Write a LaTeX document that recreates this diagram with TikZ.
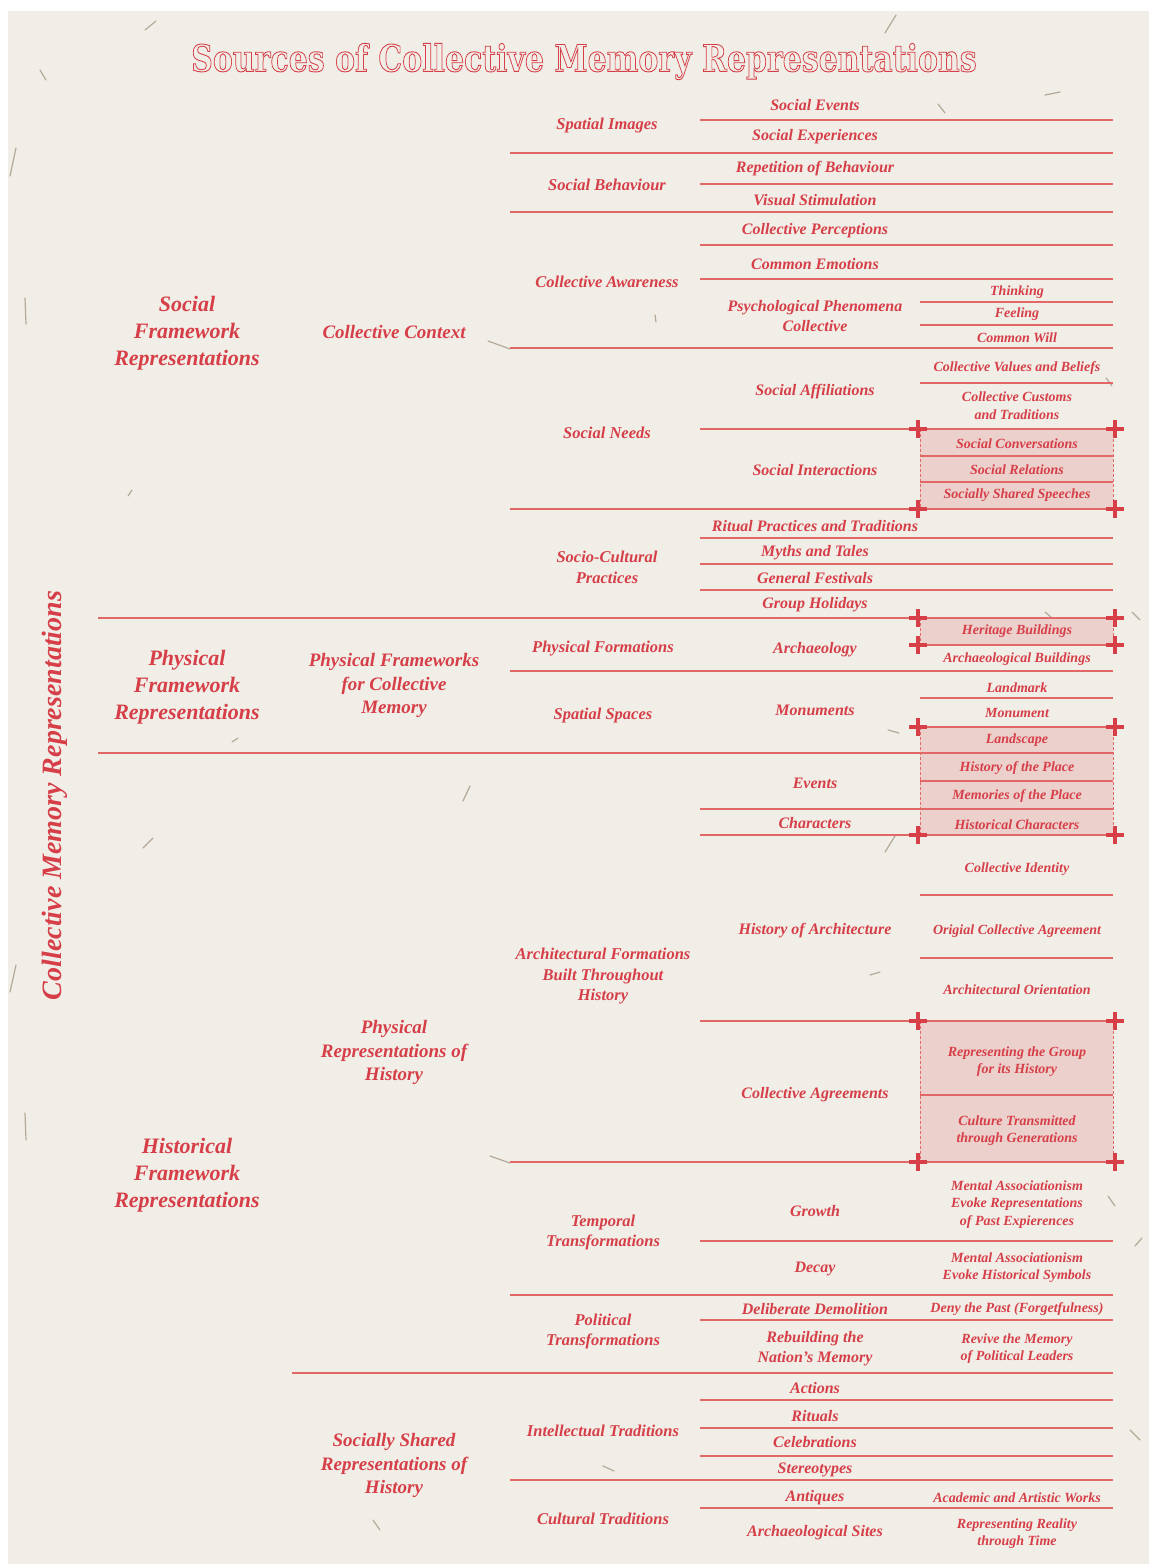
\documentclass[tikz,border=0pt]{standalone}
\usepackage{fontspec}
\setmainfont{Liberation Serif}
\newfontfamily\headfont{DejaVu Serif}
\usepackage{graphicx}
\usepackage{xcolor}
\definecolor{memred}{RGB}{214,62,72}
\definecolor{memline}{RGB}{226,104,104}
\definecolor{paper}{RGB}{241,238,231}
\definecolor{fibre}{RGB}{120,100,70}
% hollow (outlined) letters for the heading
\newcommand{\hollowtext}[1]{\special{pdf:literal direct 1 Tr 0.9 w}#1\special{pdf:literal direct 0 Tr}}

\begin{document}
\begin{tikzpicture}[x=1pt, y=-1pt,
    every node/.style={text=memred, align=center, inner sep=0pt, yshift=-1.5pt},
    t1/.style={font=\fontsize{22}{27}\selectfont\bfseries\itshape},
    t2/.style={font=\fontsize{19}{23.5}\selectfont\bfseries\itshape},
    t3/.style={font=\fontsize{16.5}{20.5}\selectfont\bfseries\itshape},
    t4/.style={font=\fontsize{16}{20}\selectfont\bfseries\itshape},
    t5/.style={font=\fontsize{14}{17.5}\selectfont\bfseries\itshape},
    sep/.style={draw=memline, line width=1.3pt},
    band/.style={fill=memred, fill opacity=0.17},
    bandedge/.style={draw=memline, line width=0.8pt, dash pattern=on 3pt off 2pt},
    crs/.style={draw=memred, line width=3.4pt},
    fib/.style={draw=fibre, line width=1.2pt, line cap=round, opacity=0.5}]
\useasboundingbox (0,0) rectangle (1149,1564);
\fill[white] (0,0) rectangle (1149,1564);
\fill[paper] (8,11) rectangle (1149,1564);
% paper fibres
\foreach \a/\b/\c/\d in {145/30/156/21, 885/33/896/15, 1045/95/1060/92, 938/104/945/113,
    10/176/16/148, 25/298/26/324, 488/341/510/349, 128/496/132/490, 40/70/46/80,
    463/801/470/786, 10/992/16/965, 25/1113/26/1140, 490/1156/510/1163, 603/1466/614/1471,
    1130/1430/1140/1440, 1135/1246/1142/1238, 1108/1196/1115/1206, 870/975/880/972,
    888/730/899/733, 885/852/895/836, 143/848/153/838, 232/742/238/738, 1106/378/1112/386,
    655/315/656/322, 1045/612/1052/618, 1132/612/1140/620, 373/1520/380/1530}
  \draw[fib] (\a,\b) -- (\c,\d);

% heading
\node (title) at (584,60) {\headfont\bfseries\fontsize{37}{41}\selectfont
  \scalebox{0.81}[1]{\hollowtext{Sources of Collective Memory Representations}}};
\node[rotate=90, font=\fontsize{28}{32}\selectfont\bfseries\itshape] (root) at (55,794)
  {Collective Memory Representations};

% shaded groups
\foreach \ya/\yb in {429/509, 618/645, 727/835, 1021/1162} {
  \fill[band] (920,\ya) rectangle (1113,\yb);
  \draw[bandedge] (920,\ya) -- (920,\yb) (1113,\ya) -- (1113,\yb);
}

% dividers
\foreach \y in {618,753} \draw[sep] (98,\y) -- (1113,\y);
\draw[sep] (292,1373) -- (1113,1373);
\foreach \y in {153,212,348,509,671,1162,1295,1480} \draw[sep] (510,\y) -- (1113,\y);
\foreach \y in {120,184,245,279,429,538,564,590,809,835,1021,1241,1320,1400,1428,1456,1508}
  \draw[sep] (700,\y) -- (1113,\y);
\foreach \y in {302,325,383,456,482,645,698,727,781,895,958,1095}
  \draw[sep] (920,\y) -- (1113,\y);

% corner crosses
\foreach \y in {429,509,618,645,727,835,1021,1162}
  \foreach \x in {918,1115}
    \draw[crs] (\x-9,\y) -- (\x+9,\y) (\x,\y-9) -- (\x,\y+9);

% level 1
\node[t1] (fs) at (187,332) {Social\\Framework\\Representations};
\node[t1] (fp) at (187,686) {Physical\\Framework\\Representations};
\node[t1] (fh) at (187,1174) {Historical\\Framework\\Representations};

% level 2
\node[t2] (cc) at (394,330) {Collective Context};
\node[t2] (pf) at (394,684) {Physical Frameworks\\for Collective\\Memory};
\node[t2] (pr) at (394,1051) {Physical\\Representations of\\History};
\node[t2] (ss) at (394,1464) {Socially Shared\\Representations of\\History};

% level 3
\foreach \x/\y/\t [count=\i] in {607/124/Spatial Images, 607/183/Social Behaviour,
    607/280/Collective Awareness, 607/431/Social Needs, 607/566/Socio-Cultural\\Practices,
    603/647/Physical Formations, 603/714/Spatial Spaces,
    603/975/Architectural Formations\\Built Throughout\\History,
    603/1231/Temporal\\Transformations, 603/1330/Political\\Transformations,
    603/1429/Intellectual Traditions, 603/1517/Cultural Traditions}
  \node[t3] (c\i) at (\x,\y) {\t};

% level 4
\foreach \y/\t [count=\i] in {104/Social Events, 135/Social Experiences,
    167/Repetition of Behaviour, 199/Visual Stimulation, 229/Collective Perceptions,
    263/Common Emotions, 315/Psychological Phenomena\\Collective, 390/Social Affiliations,
    469/Social Interactions, 525/Ritual Practices and Traditions, 551/Myths and Tales,
    577/General Festivals, 603/Group Holidays, 648/Archaeology, 709/Monuments,
    782/Events, 822/Characters, 929/History of Architecture, 1093/Collective Agreements,
    1210/Growth, 1267/Decay, 1308/Deliberate Demolition, 1347/Rebuilding the\\Nation’s Memory,
    1387/Actions, 1415/Rituals, 1441/Celebrations, 1468/Stereotypes, 1496/Antiques,
    1531/Archaeological Sites}
  \node[t4] (d\i) at (815,\y) {\t};

% level 5
\foreach \y/\t [count=\i] in {291/Thinking, 313/Feeling, 336/Common Will,
    367/Collective Values and Beliefs, 404/Collective Customs\\and Traditions,
    442/Social Conversations, 468/Social Relations, 494/Socially Shared Speeches,
    630/Heritage Buildings, 658/Archaeological Buildings, 686/Landmark, 711/Monument,
    739/Landscape, 767/History of the Place, 795/Memories of the Place,
    823/Historical Characters, 868/Collective Identity, 930/Origial Collective Agreement,
    988/Architectural Orientation, 1060/Representing the Group\\for its History,
    1129/Culture Transmitted\\through Generations,
    1203/Mental Associationism\\Evoke Representations\\of Past Expierences,
    1266/Mental Associationism\\Evoke Historical Symbols,
    1308/Deny the Past (Forgetfulness), 1347/Revive the Memory\\of Political Leaders,
    1496/Academic and Artistic Works, 1532/Representing Reality\\through Time}
  \node[t5] (e\i) at (1017,\y) {\t};
\end{tikzpicture}
\end{document}
